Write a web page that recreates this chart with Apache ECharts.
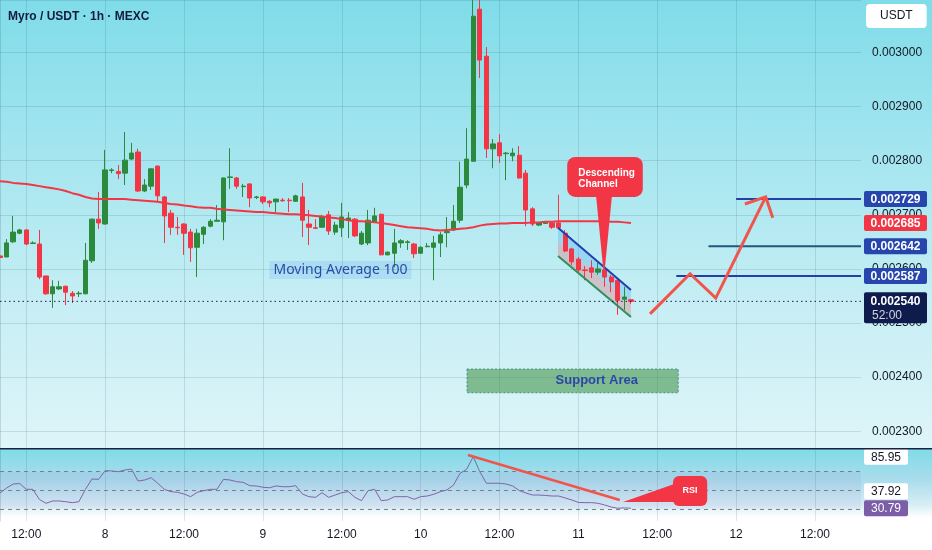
<!DOCTYPE html>
<html>
<head>
<meta charset="utf-8">
<script src="https://cdn.jsdelivr.net/npm/echarts@6/dist/echarts.min.js"></script>
<style>html,body{margin:0;padding:0;background:#fff}#chart{width:932px;height:550px}</style>
</head>
<body>
<div id="chart"></div>
<script>
// ---------- DATA ----------
// hourly bars, first bar = day 7 08:00
const startDay = 7, startHour = 8, totalBars = 132;

// [open, close, low, high]
const candles = [
[0.002624,0.002621,0.002620,0.002626],[0.002622,0.002648,0.002622,0.002655],[0.002650,0.002668,0.002648,0.002698],
[0.002666,0.002672,0.002664,0.002674],[0.002672,0.002646,0.002644,0.002673],[0.002647,0.002648,0.002646,0.002651],
[0.002646,0.002585,0.002581,0.002672],[0.002587,0.002554,0.002552,0.002587],[0.002554,0.002567,0.002528,0.002579],
[0.002563,0.002567,0.002561,0.002578],[0.002568,0.002557,0.002533,0.002569],[0.002555,0.002550,0.002537,0.002559],
[0.002554,0.002555,0.002548,0.002559],[0.002554,0.002616,0.002553,0.002648],[0.002615,0.002692,0.002611,0.002693],
[0.002692,0.002685,0.002674,0.002742],[0.002683,0.002783,0.002682,0.002820],[0.002782,0.002783,0.002777,0.002786],
[0.002780,0.002776,0.002766,0.002792],[0.002777,0.002801,0.002755,0.002853],[0.002803,0.002814,0.002801,0.002833],
[0.002816,0.002744,0.002742,0.002822],[0.002744,0.002755,0.002742,0.002766],[0.002753,0.002785,0.002746,0.002786],
[0.002790,0.002735,0.002724,0.002791],[0.002733,0.002698,0.002648,0.002735],[0.002703,0.002677,0.002663,0.002709],
[0.002677,0.002676,0.002663,0.002696],[0.002683,0.002666,0.002626,0.002684],[0.002668,0.002639,0.002613,0.002674],
[0.002640,0.002666,0.002585,0.002674],[0.002664,0.002677,0.002646,0.002679],[0.002679,0.002688,0.002677,0.002692],
[0.002688,0.002690,0.002688,0.002718],[0.002687,0.002768,0.002653,0.002769],[0.002769,0.002770,0.002748,0.002823],
[0.002768,0.002753,0.002748,0.002770],[0.002752,0.002753,0.002733,0.002757],[0.002757,0.002731,0.002714,0.002758],
[0.002732,0.002733,0.002729,0.002735],[0.002733,0.002724,0.002720,0.002734],[0.002725,0.002722,0.002714,0.002727],
[0.002724,0.002729,0.002705,0.002730],[0.002727,0.002726,0.002724,0.002731],[0.002727,0.002726,0.002705,0.002731],
[0.002725,0.002735,0.002724,0.002737],[0.002733,0.002690,0.002659,0.002759],[0.002683,0.002677,0.002644,0.002709],
[0.002676,0.002675,0.002674,0.002692],[0.002677,0.002696,0.002676,0.002700],[0.002700,0.002670,0.002663,0.002707],
[0.002668,0.002681,0.002663,0.002687],[0.002676,0.002696,0.002659,0.002722],[0.002690,0.002694,0.002657,0.002705],
[0.002692,0.002661,0.002659,0.002694],[0.002646,0.002666,0.002644,0.002670],[0.002648,0.002690,0.002644,0.002709],
[0.002687,0.002698,0.002687,0.002713],[0.002701,0.002626,0.002625,0.002702],[0.002626,0.002631,0.002625,0.002632],
[0.002629,0.002648,0.002603,0.002674],[0.002648,0.002652,0.002639,0.002655],[0.002649,0.002650,0.002635,0.002653],
[0.002646,0.002628,0.002620,0.002648],[0.002629,0.002640,0.002628,0.002642],[0.002641,0.002642,0.002640,0.002648],
[0.002640,0.002648,0.002579,0.002661],[0.002648,0.002663,0.002622,0.002668],[0.002667,0.002669,0.002640,0.002696],
[0.002672,0.002688,0.002670,0.002718],[0.002690,0.002751,0.002685,0.002798],[0.002755,0.002803,0.002749,0.002860],
[0.002799,0.003067,0.002799,0.003102],[0.003080,0.002986,0.002953,0.003101],[0.002993,0.002822,0.002805,0.003010],
[0.002822,0.002831,0.002786,0.002840],[0.002833,0.002809,0.002796,0.002849],[0.002813,0.002814,0.002764,0.002816],
[0.002809,0.002814,0.002799,0.002823],[0.002810,0.002768,0.002767,0.002827],[0.002777,0.002709,0.002679,0.002783],
[0.002711,0.002683,0.002679,0.002714],[0.002681,0.002685,0.002679,0.002687],[0.002684,0.002685,0.002683,0.002687],
[0.002685,0.002677,0.002674,0.002687],[0.002685,0.002676,0.002674,0.002737],[0.002666,0.002633,0.002631,0.002672],
[0.002637,0.002613,0.002607,0.002639],[0.002618,0.002598,0.002594,0.002622],[0.002598,0.002597,0.002579,0.002605],
[0.002602,0.002594,0.002583,0.002616],[0.002594,0.002600,0.002589,0.002611],[0.002598,0.002585,0.002567,0.002598],
[0.002585,0.002576,0.002557,0.002589],[0.002579,0.002542,0.002515,0.002583],[0.002544,0.002548,0.002524,0.002567],
[0.002543,0.002540,0.002535,0.002544]
];

const ma100 = [
0.002762,0.002761,0.002759,0.002758,0.002757,0.002755,0.002753,0.002751,0.002749,0.002747,
0.002744,0.002740,0.002737,0.002733,0.002730,0.002729,0.002729,0.002729,0.002729,0.002729,
0.002728,0.002727,0.002726,0.002725,0.002724,0.002722,0.002720,0.002719,0.002717,0.002716,
0.002714,0.002713,0.002713,0.002711,0.002710,0.002709,0.002708,0.002707,0.002706,0.002705,
0.002705,0.002704,0.002703,0.002702,0.002701,0.002701,0.002700,0.002699,0.002698,0.002697,
0.002695,0.002694,0.002692,0.002690,0.002688,0.002688,0.002687,0.002686,0.002685,0.002683,
0.002681,0.002679,0.002677,0.002676,0.002675,0.002674,0.002672,0.002671,0.002672,0.002673,
0.002674,0.002675,0.002677,0.002680,0.002682,0.002683,0.002684,0.002684,0.002685,0.002685,
0.002685,0.002686,0.002686,0.002687,0.002687,0.002688,0.002688,0.002688,0.002688,0.002688,
0.002688,0.002688,0.002688,0.002687,0.002687,0.002686,0.002685
];

const rsi = [
47.2,52.5,56.8,57.3,51.1,51.1,40.2,36.1,38.6,38.6,
37.8,36.8,37.8,51.1,62.2,61.8,71.1,70.8,70.0,71.8,
72.9,60.0,61.1,63.6,57.6,51.1,48.6,47.9,46.1,43.2,
47.9,49.6,51.1,51.1,61.8,61.1,59.3,58.6,55.0,54.7,
53.3,52.8,54.7,53.9,53.9,55.0,46.1,43.2,42.5,47.5,
42.5,45.0,47.5,48.6,42.5,38.9,49.6,51.1,38.9,39.7,
43.2,43.2,43.2,40.4,43.2,43.9,45.8,48.6,50.4,55.7,
68.3,72.6,86.1,70.0,57.6,57.6,57.6,56.8,54.7,49.8,
47.2,45.0,45.0,44.5,43.9,43.9,41.8,39.7,37.0,36.8,
36.8,36.1,34.3,32.1,30.8,31.2,30.79
];
const rsiLevels = [70, 50, 30];
const rsiTags = [85.95, 37.92, 30.79];
const priceTicks = [0.0023, 0.0024, 0.0025, 0.0026, 0.0027, 0.0028, 0.0029, 0.0030];

// target levels and the bar index where each drawn line starts
const targetLevels = [0.002729, 0.002642, 0.002587];
const targetStarts = [112.0, 107.8, 102.9];
const countdown = '52:00';

// drawings, in [bar index, price] (or [bar index, RSI])
const channelTop = [[84.9, 0.002676], [96.0, 0.002561]];
const channelBottom = [[84.9, 0.002624], [96.0, 0.002511]];
const forecastPath = [[98.9, 0.002517], [105.0, 0.002591], [108.9, 0.002546], [116.5, 0.002733]];
const supportArea = [[71.05, 0.002415], [103.2, 0.002371]];
const supportLabelAt = [90.8, 0.002393];
const maLabelAt = [41.0, 0.002598];
const channelCallout = { box: [[86.3, 0.002807], [97.8, 0.002733]], tip: [91.9, 0.002585] };
const rsiTrend = [[71.2, 87.9], [94.3, 39.7]];
const rsiCallout = { box: [[102.4, 65.4], [107.6, 33.2]], tip: [94.8, 37.5] };

// ---------- BUILD ----------
const categories = [];
for (let i = 0; i < totalBars; i++) {
  const t = startHour + i;
  const day = startDay + Math.floor(t / 24);
  const hh = t % 24;
  categories.push(day + ' ' + String(hh).padStart(2, '0') + ':00');
}
function timeLabel(cat) {
  const parts = cat.split(' ');
  if (parts[1] === '00:00') return parts[0];
  if (parts[1] === '12:00') return '12:00';
  return '';
}
const isTick = (idx) => timeLabel(categories[idx]) !== '';

const FONT = '"Liberation Sans", Arial, sans-serif';
const GRID_LINE = 'rgba(40,80,100,0.15)';
const RED = '#f23645', GREEN = '#2b8a3b', BLUE_TAG = '#2646ad', ARROW = '#f0554b';
const lastClose = candles[candles.length - 1][1];
const lastMA = ma100[ma100.length - 1];

function tag(x, y, w, h, bg, text, color, bold) {
  return [
    { type: 'rect', shape: { x: x, y: y - h / 2, width: w, height: h, r: 2 }, style: { fill: bg } },
    { type: 'text', style: { text: text, x: x + w / 2, y: y + 0.5, fill: color, font: (bold ? 'bold ' : '') + '12px ' + FONT, align: 'center', verticalAlign: 'middle' } }
  ];
}

function renderBelow(params, api) {
  const P = (p) => api.coord(p);
  const t0 = P(channelTop[0]), t1 = P(channelTop[1]), b0 = P(channelBottom[0]), b1 = P(channelBottom[1]);
  const m0 = [(t0[0] + b0[0]) / 2, (t0[1] + b0[1]) / 2], m1 = [(t1[0] + b1[0]) / 2, (t1[1] + b1[1]) / 2];
  const s0 = P(supportArea[0]), s1 = P(supportArea[1]);
  return { type: 'group', children: [
    { type: 'polygon', shape: { points: [t0, t1, m1, m0] }, style: { fill: 'rgba(33,150,243,0.24)' } },
    { type: 'polygon', shape: { points: [m0, m1, b1, b0] }, style: { fill: 'rgba(242,54,69,0.24)' } },
    { type: 'rect', shape: { x: s0[0], y: s0[1], width: s1[0] - s0[0], height: s1[1] - s0[1] },
      style: { fill: 'rgba(56,142,60,0.55)', stroke: 'rgba(50,110,110,0.7)', lineWidth: 1, lineDash: [2, 2] } }
  ]};
}

function renderAbove(params, api) {
  const P = (p) => api.coord(p);
  const ch = [];
  const gridRight = P([totalBars - 1, lastClose])[0];
  const gridLeft = P([0, lastClose])[0];
  const t0 = P(channelTop[0]), t1 = P(channelTop[1]), b0 = P(channelBottom[0]), b1 = P(channelBottom[1]);
  ch.push({ type: 'line', shape: { x1: t0[0], y1: t0[1], x2: t1[0], y2: t1[1] }, style: { stroke: '#1f3fae', lineWidth: 2 } });
  ch.push({ type: 'line', shape: { x1: b0[0], y1: b0[1], x2: b1[0], y2: b1[1] }, style: { stroke: '#2f8f5b', lineWidth: 2 } });
  const cy = P([0, lastClose])[1];
  ch.push({ type: 'line', shape: { x1: gridLeft, y1: cy, x2: gridRight, y2: cy }, style: { stroke: '#1a2250', lineWidth: 1, lineDash: [1.5, 3] } });
  targetLevels.forEach((v, k) => {
    const a = P([targetStarts[k], v]);
    ch.push({ type: 'line', shape: { x1: a[0], y1: a[1], x2: gridRight, y2: a[1] },
      style: { stroke: k === 1 ? '#22587c' : '#2340a8', lineWidth: 2 } });
  });
  const pts = forecastPath.map(P);
  ch.push({ type: 'polyline', shape: { points: pts }, style: { stroke: ARROW, lineWidth: 3, fill: null, lineJoin: 'miter' } });
  const tip = pts[pts.length - 1], prev = pts[pts.length - 2];
  const ang = Math.atan2(prev[1] - tip[1], prev[0] - tip[0]);
  const L = 22, sp = Math.PI / 4;
  ch.push({ type: 'polyline', shape: { points: [
    [tip[0] + L * Math.cos(ang + sp), tip[1] + L * Math.sin(ang + sp)], tip,
    [tip[0] + L * Math.cos(ang - sp), tip[1] + L * Math.sin(ang - sp)]] },
    style: { stroke: ARROW, lineWidth: 3, fill: null } });
  const sl = P(supportLabelAt);
  ch.push({ type: 'text', style: { text: 'Support Area', x: sl[0], y: sl[1], fill: '#2b48a8', font: 'bold 13px ' + FONT, align: 'center', verticalAlign: 'middle' } });
  const ml = P(maLabelAt);
  ch.push({ type: 'text', style: { text: 'Moving Average 100', x: ml[0], y: ml[1], fill: '#2b4ca3', font: '14px "Noto Sans", ' + FONT,
    align: 'left', verticalAlign: 'middle', backgroundColor: 'rgba(41,121,255,0.13)', padding: [2, 4, 2, 4] } });
  const cb0 = P(channelCallout.box[0]), cb1 = P(channelCallout.box[1]), ct = P(channelCallout.tip);
  ch.push({ type: 'polygon', shape: { points: [[ct[0] - 8, cb1[1] - 2], [ct[0] + 8, cb1[1] - 2], ct] }, style: { fill: RED } });
  ch.push({ type: 'rect', shape: { x: cb0[0], y: cb0[1], width: cb1[0] - cb0[0], height: cb1[1] - cb0[1], r: 8 }, style: { fill: RED } });
  ch.push({ type: 'text', style: { text: 'Descending', x: cb0[0] + 11, y: cb0[1] + 16, fill: '#fff', font: 'bold 10px ' + FONT, align: 'left', verticalAlign: 'middle' } });
  ch.push({ type: 'text', style: { text: 'Channel', x: cb0[0] + 11, y: cb0[1] + 27, fill: '#fff', font: 'bold 10px ' + FONT, align: 'left', verticalAlign: 'middle' } });
  const tx = gridRight + 3, tw = 63;
  targetLevels.forEach((v) => { ch.push(...tag(tx, P([0, v])[1], tw, 16, BLUE_TAG, v.toFixed(6), '#fff', true)); });
  ch.push(...tag(tx, P([0, lastMA])[1], tw, 16, RED, lastMA.toFixed(6), '#fff', true));
  ch.push({ type: 'rect', shape: { x: tx, y: cy - 9, width: tw, height: 31, r: 2 }, style: { fill: '#0e1b4d' } });
  ch.push({ type: 'text', style: { text: lastClose.toFixed(6), x: tx + tw / 2, y: cy + 0.5, fill: '#fff', font: 'bold 12px ' + FONT, align: 'center', verticalAlign: 'middle' } });
  ch.push({ type: 'text', style: { text: countdown, x: tx + 8, y: cy + 14, fill: '#d1d4dc', font: '12px ' + FONT, align: 'left', verticalAlign: 'middle' } });
  return { type: 'group', children: ch };
}

function renderRsi(params, api) {
  const P = (p) => api.coord(p);
  const ch = [];
  const a = P(rsiTrend[0]), b = P(rsiTrend[1]);
  ch.push({ type: 'line', shape: { x1: a[0], y1: a[1], x2: b[0], y2: b[1] }, style: { stroke: ARROW, lineWidth: 2.5 } });
  const r0 = P(rsiCallout.box[0]), r1 = P(rsiCallout.box[1]), rt = P(rsiCallout.tip);
  ch.push({ type: 'polygon', shape: { points: [rt, [r0[0] + 4, r0[1] + 7], [r0[0] + 4, r1[1] - 4]] }, style: { fill: RED } });
  ch.push({ type: 'rect', shape: { x: r0[0], y: r0[1], width: r1[0] - r0[0], height: r1[1] - r0[1], r: 6 }, style: { fill: RED } });
  ch.push({ type: 'text', style: { text: 'RSI', x: (r0[0] + r1[0]) / 2, y: (r0[1] + r1[1]) / 2, fill: '#fff', font: 'bold 9px ' + FONT, align: 'center', verticalAlign: 'middle' } });
  const gridRight = P([totalBars - 1, 50])[0];
  const ys = rsiTags.map(v => P([0, v])[1]);
  for (let k = ys.length - 2; k >= 0; k--) ys[k] = Math.min(ys[k], ys[k + 1] - 17);
  rsiTags.forEach((v, k) => {
    const last = k === rsiTags.length - 1;
    ch.push(...tag(gridRight + 3, ys[k], 44, 16, last ? '#7b5ea7' : '#ffffff', v.toFixed(2), last ? '#fff' : '#131722', false));
  });
  return { type: 'group', children: ch };
}

const chart = echarts.init(document.getElementById('chart'), null, { renderer: 'canvas' });
chart.setOption({
  animation: false,
  backgroundColor: '#ffffff',
  textStyle: { fontFamily: FONT },
  title: [
    { text: 'Myro / USDT · 1h · MEXC', left: 8, top: 11, padding: 0, textStyle: { fontSize: 12, fontWeight: 'bold', color: '#131c3c', fontFamily: FONT } },
    { text: 'USDT', left: 866, top: 4, padding: [6, 14], backgroundColor: '#ffffff', borderRadius: 4,
      textStyle: { fontSize: 12, fontWeight: 'normal', color: '#131722', fontFamily: FONT } }
  ],
  graphic: [
    { type: 'rect', z: -100, silent: true, shape: { x: 0, y: 0, width: 932, height: 449 },
      style: { fill: { type: 'linear', x: 0, y: 0, x2: 0, y2: 1, colorStops: [
        { offset: 0, color: '#7fdce9' }, { offset: 0.33, color: '#a3e5ef' }, { offset: 0.67, color: '#c6eef4' }, { offset: 1, color: '#def5f9' }] } } },
    { type: 'rect', z: -100, silent: true, shape: { x: 0, y: 449, width: 932, height: 101 },
      style: { fill: { type: 'linear', x: 0, y: 0, x2: 0, y2: 1, colorStops: [
        { offset: 0, color: '#7fdce9' }, { offset: 0.3, color: '#a9dcec' }, { offset: 0.55, color: '#d6eef5' }, { offset: 0.68, color: '#ffffff' }, { offset: 1, color: '#ffffff' }] } } },
    { type: 'line', z: 100, silent: true, shape: { x1: 0, y1: 448.75, x2: 932, y2: 448.75 }, style: { stroke: '#1a2040', lineWidth: 1.5 } }
  ],
  grid: [
    { left: 0, right: 71, top: 0, height: 448 },
    { left: 0, right: 71, top: 450, height: 71 }
  ],
  xAxis: [
    { type: 'category', gridIndex: 0, data: categories, boundaryGap: false,
      axisLine: { show: false }, axisTick: { show: false }, axisLabel: { show: false },
      splitLine: { show: true, interval: (i) => isTick(i), lineStyle: { color: GRID_LINE, width: 1 } } },
    { type: 'category', gridIndex: 1, data: categories, boundaryGap: false,
      axisLine: { show: false }, axisTick: { show: false },
      axisLabel: { show: true, interval: (i) => isTick(i), formatter: (v) => timeLabel(v), color: '#131722', fontSize: 12, margin: 8, fontFamily: FONT },
      splitLine: { show: true, interval: (i) => isTick(i), lineStyle: { color: GRID_LINE, width: 1 } } },
    { type: 'value', gridIndex: 0, min: 0, max: totalBars - 1, show: false, splitLine: { show: false } },
    { type: 'value', gridIndex: 1, min: 0, max: totalBars - 1, show: false, splitLine: { show: false } }
  ],
  yAxis: [
    { type: 'value', gridIndex: 0, position: 'right', min: 0.002269, max: 0.003097, splitNumber: 8,
      minInterval: 0.0001, maxInterval: 0.0001, scale: true,
      axisLine: { show: true, lineStyle: { color: 'rgba(40,80,100,0.18)' } }, axisTick: { show: false },
      axisLabel: { color: '#131722', fontSize: 12, margin: 11, fontFamily: FONT,
        formatter: (v) => priceTicks.some(t => Math.abs(t - v) < 1e-9) ? v.toFixed(6) : '' },
      splitLine: { show: true, lineStyle: { color: GRID_LINE, width: 1 } } },
    { type: 'value', gridIndex: 1, position: 'right', min: 17.1, max: 93.3,
      axisLine: { show: true, lineStyle: { color: 'rgba(40,80,100,0.18)' } }, axisTick: { show: false },
      axisLabel: { show: false }, splitLine: { show: false } }
  ],
  series: [
    { type: 'custom', name: 'drawings-below', xAxisIndex: 2, yAxisIndex: 0, z: 1, clip: false, silent: true,
      data: [[0, lastClose]], renderItem: renderBelow },
    { type: 'candlestick', name: 'MYRO', xAxisIndex: 0, yAxisIndex: 0, data: candles, barWidth: '74%', z: 3,
      itemStyle: { color: GREEN, color0: RED, borderColor: GREEN, borderColor0: RED, borderWidth: 1 } },
    { type: 'line', name: 'MA100', xAxisIndex: 0, yAxisIndex: 0, data: ma100, showSymbol: false, z: 4,
      lineStyle: { color: RED, width: 2 } },
    { type: 'custom', name: 'drawings', xAxisIndex: 2, yAxisIndex: 0, z: 6, clip: false, silent: true,
      data: [[0, lastClose]], renderItem: renderAbove },
    { type: 'line', name: 'RSI', xAxisIndex: 1, yAxisIndex: 1, data: rsi, showSymbol: false, z: 3,
      lineStyle: { color: '#8063a8', width: 1 },
      markArea: { silent: true, itemStyle: { color: 'rgba(126,87,194,0.08)' }, data: [[{ yAxis: 30 }, { yAxis: 70 }]] },
      markLine: { silent: true, symbol: ['none', 'none'], label: { show: false },
        lineStyle: { type: [4, 4], color: '#7b7f8a', width: 1 }, data: rsiLevels.map(v => ({ yAxis: v })) } },
    { type: 'custom', name: 'rsi-drawings', xAxisIndex: 3, yAxisIndex: 1, z: 6, clip: false, silent: true,
      data: [[0, 50]], renderItem: renderRsi }
  ]
});
</script>
</body>
</html>
